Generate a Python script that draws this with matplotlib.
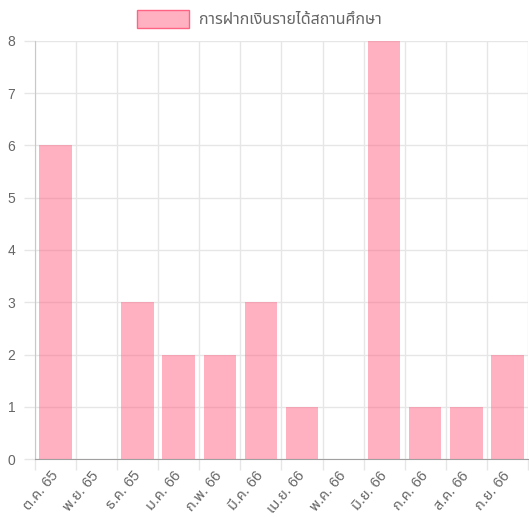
import numpy as np
from matplotlib import pyplot as plt
from matplotlib import font_manager as fm

months = ["ต.ค. 65", "พ.ย. 65", "ธ.ค. 65", "ม.ค. 66", "ก.พ. 66", "มี.ค. 66",
          "เม.ย. 66", "พ.ค. 66", "มิ.ย. 66", "ก.ค. 66", "ส.ค. 66", "ก.ย. 66"]
deposits = [6, 0, 3, 2, 2, 3, 1, 0, 8, 1, 1, 2]
series_name = "การฝากเงินรายได้สถานศึกษา"

# pick a thai font that exists here
thai = "DejaVu Sans"
for name in ["Noto Sans Thai", "Sarabun", "IBM Plex Sans Thai Looped", "Prompt", "Kanit"]:
    try:
        fm.findfont(name, fallback_to_default=False)
        thai = name
        break
    except Exception:
        pass
plt.rcParams['font.family'] = ["Liberation Sans", thai, "DejaVu Sans"]

txtcol = "#666666"
fig = plt.figure(figsize=(5.29, 5.17), dpi=100)
ax = fig.add_axes([0.066, 0.112, 0.932, 0.809])

x = np.arange(len(months))
ax.bar(x, deposits, width=0.79, color=(1, 0.388, 0.518, 0.5), linewidth=0, zorder=3)

ax.set_xlim(-0.5, len(months) - 0.5)
ax.set_ylim(0, 8)
ax.set_yticks(range(9))
ax.set_xticks(x)
ax.set_xticklabels(months, rotation=50, ha="right", va="center", rotation_mode="anchor")
ax.set_xticks(np.arange(len(months) + 1) - 0.5, minor=True)
ax.tick_params(axis="x", which="major", length=0, pad=10, labelsize=10.5, labelcolor=txtcol)
ax.tick_params(axis="x", which="minor", length=8, color="#e6e6e6", width=1)
ax.tick_params(axis="y", length=8, color="#e6e6e6", width=1, labelsize=10,
               labelcolor=txtcol, pad=6)
ax.grid(True, axis="y", color="#e6e6e6", linewidth=1, zorder=0)
ax.grid(True, axis="x", which="minor", color="#e6e6e6", linewidth=1, zorder=0)
for s in ["top", "right"]:
    ax.spines[s].set_visible(False)
ax.spines["left"].set_color("#c8c8c8")
ax.spines["bottom"].set_color("#a0a0a0")
ax.set_axisbelow(True)

h = plt.Rectangle((0, 0), 1, 1, facecolor=(1, 0.388, 0.518, 0.5),
                  edgecolor=(1, 0.388, 0.518), linewidth=1)
fig.legend([h], [series_name], loc="upper center", bbox_to_anchor=(0.49, 1.008),
           frameon=False, handlelength=3.3, handleheight=1.3, fontsize=11.5,
           labelcolor=txtcol, handletextpad=0.6)

fig.savefig("out.png")
